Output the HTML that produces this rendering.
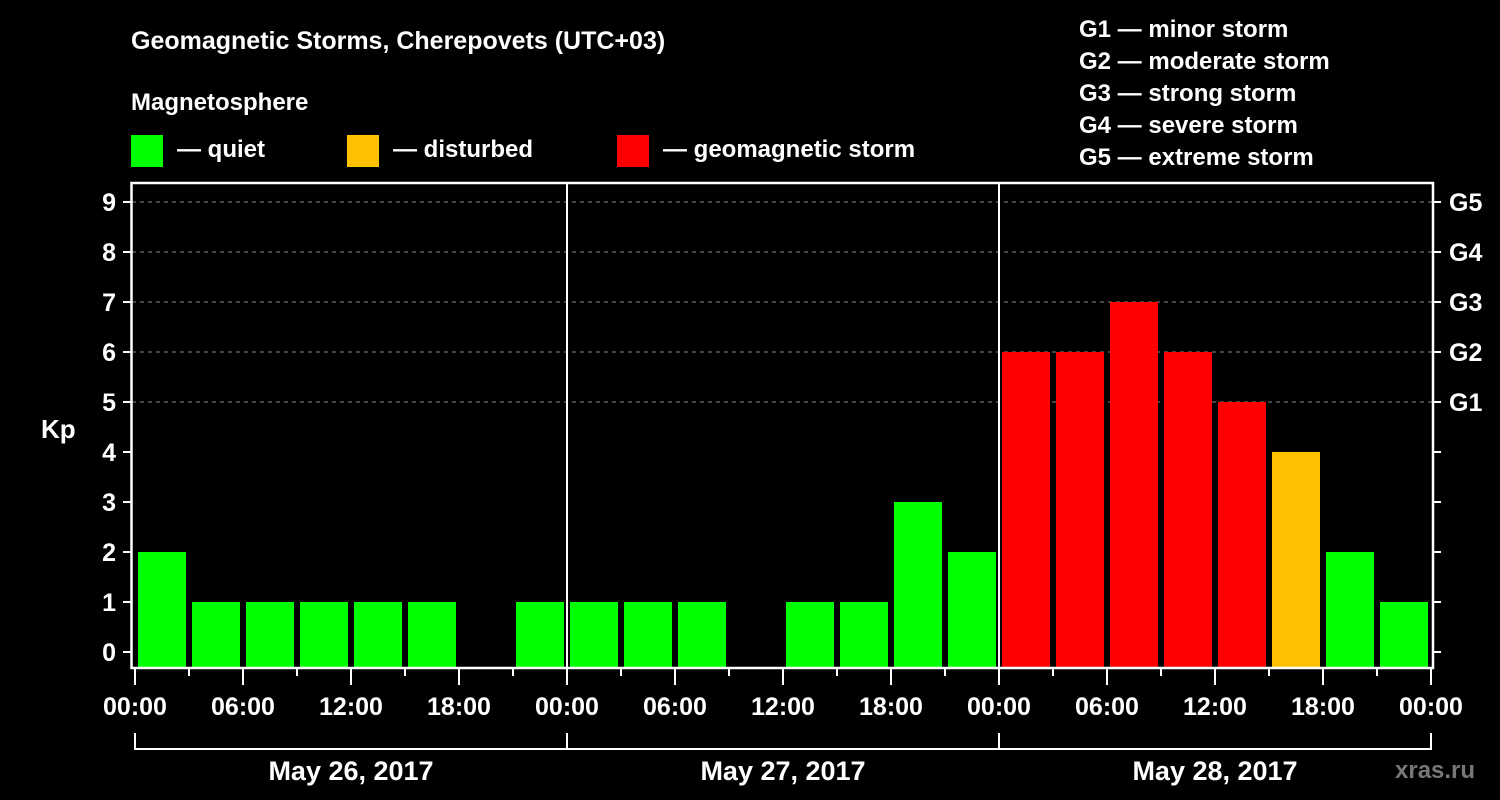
<!DOCTYPE html>
<html><head><meta charset="utf-8">
<style>
body{margin:0;background:#000;}
svg{display:block;font-family:"Liberation Sans",Arial,sans-serif;font-weight:bold;}
</style></head><body>
<svg id="chart" width="1500" height="800" viewBox="0 0 1500 800">
<rect width="1500" height="800" fill="#000"/>
<text x="131" y="49" fill="#fff" font-size="25">Geomagnetic Storms, Cherepovets (UTC+03)</text>
<text x="131" y="110" fill="#fff" font-size="24">Magnetosphere</text>
<g><rect x="131" y="135" width="32" height="32" fill="#00ff00"/><text x="177" y="157" fill="#fff" font-size="24">— quiet</text></g>
<g><rect x="347" y="135" width="32" height="32" fill="#ffc000"/><text x="393" y="157" fill="#fff" font-size="24">— disturbed</text></g>
<g><rect x="617" y="135" width="32" height="32" fill="#ff0000"/><text x="663" y="157" fill="#fff" font-size="24">— geomagnetic storm</text></g>
<g fill="#fff" font-size="24">
<text x="1079" y="37">G1 — minor storm</text>
<text x="1079" y="69">G2 — moderate storm</text>
<text x="1079" y="101">G3 — strong storm</text>
<text x="1079" y="133">G4 — severe storm</text>
<text x="1079" y="165">G5 — extreme storm</text>
</g>
<text x="41" y="438" fill="#fff" font-size="26">Kp</text>
<text x="1395" y="778" fill="#777" font-size="24">xras.ru</text>
<g id="grid"></g><g id="bars"></g><g id="axes"></g>
</svg>
<script>
const days=["May 26, 2017","May 27, 2017","May 28, 2017"];
const kpValues=[2,1,1,1,1,1,0,1, 1,1,1,0,1,1,3,2, 6,6,7,6,5,4,2,1];
const yTicks=[0,1,2,3,4,5,6,7,8,9];
const gLabels=["G1","G2","G3","G4","G5"];
const timeLabels=["00:00","06:00","12:00","18:00"];
const NS="http://www.w3.org/2000/svg";
const x0=135,x1=1431,yTop=183,yBot=668;
const slot=(x1-x0)/kpValues.length;
const yS=v=>652-v*50;
const xS=i=>x0+i*slot;
function mk(t,a,p){const e=document.createElementNS(NS,t);for(const k in a)e.setAttribute(k,a[k]);(p||document.getElementById('axes')).appendChild(e);return e;}
const grid=document.getElementById('grid'),bars=document.getElementById('bars');
for(const v of yTicks){ if(v>=5){const l=mk('line',{x1:132,x2:1432,y1:yS(v),y2:yS(v),stroke:'#888','stroke-width':1,'stroke-dasharray':'4,4'},grid);

}}
kpValues.forEach((v,i)=>{ if(v<=0)return;
 const c=v>=5?'#ff0000':(v>=4?'#ffc000':'#00ff00');
 const r=mk('rect',{x:xS(i)+3,y:yS(v),width:slot-6,height:yBot-1-yS(v),fill:c},bars);
 
 
});
mk('rect',{x:131.5,y:yTop,width:1433-131.5,height:yBot-yTop,fill:'none',stroke:'#fff','stroke-width':2.5});
for(let d=1;d<days.length;d++){const X=x0+d*(x1-x0)/days.length;mk('line',{x1:X,x2:X,y1:yTop,y2:yBot,stroke:'#fff','stroke-width':2});}
for(const v of yTicks){const y=yS(v);
 mk('line',{x1:123,x2:131,y1:y,y2:y,stroke:'#fff','stroke-width':2});
 mk('line',{x1:1433,x2:1441,y1:y,y2:y,stroke:'#fff','stroke-width':2});
 const t=mk('text',{x:116,y:y+9,fill:'#fff','font-size':25,'text-anchor':'end'});t.textContent=v;
 
 
 if(v>=5){const g=mk('text',{x:1449,y:y+9,fill:'#fff','font-size':25});g.textContent=gLabels[v-5];
 
 }
}
for(let i=0;i<=kpValues.length;i++){const X=xS(i);const major=i%2===0;
 mk('line',{x1:X,x2:X,y1:669,y2:major?685:676,stroke:'#fff','stroke-width':2});
 if(major){const t=mk('text',{x:X,y:715,fill:'#fff','font-size':25,'text-anchor':'middle'});t.textContent=timeLabels[(i/2)%4];
 
 }
}
mk('line',{x1:x0,x2:x1,y1:749,y2:749,stroke:'#fff','stroke-width':2});
for(let d=0;d<=days.length;d++){const X=x0+d*(x1-x0)/days.length;mk('line',{x1:X,x2:X,y1:733,y2:750,stroke:'#fff','stroke-width':2});
 if(d<days.length){const t=mk('text',{x:X+(x1-x0)/days.length/2,y:780,fill:'#fff','font-size':27,'text-anchor':'middle'});t.textContent=days[d];
 
 }}
</script>
</body></html>
